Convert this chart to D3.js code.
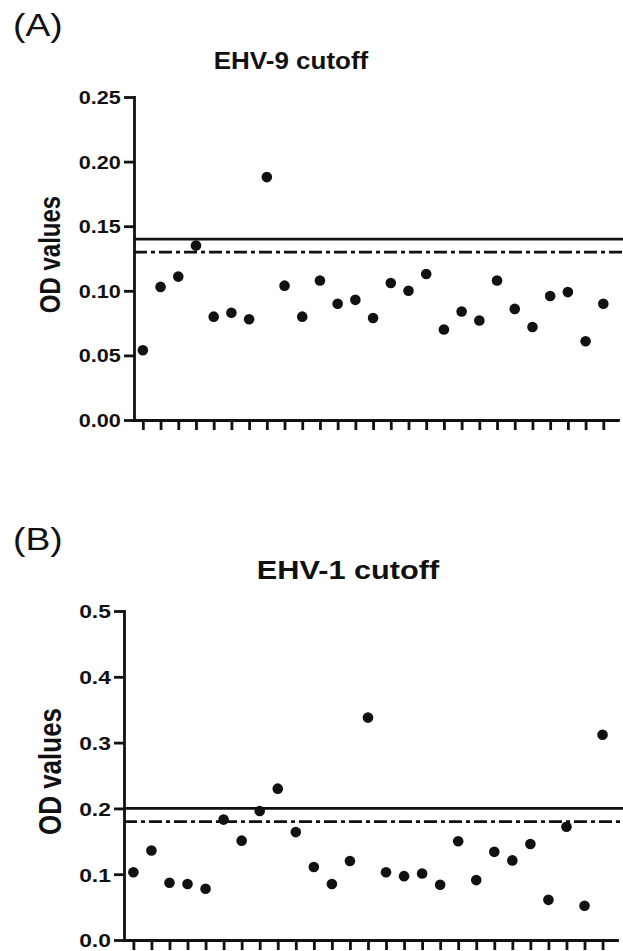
<!DOCTYPE html>
<html>
<head>
<meta charset="utf-8">
<script src="https://cdn.jsdelivr.net/npm/d3@7"></script>
<style>
    body { margin: 0; background: #fff; }
    text { font-family: "Liberation Sans", Arial, sans-serif; fill: #111; }
</style>
</head>
<body>
<svg id="chart"></svg>
<script>
// OD values, one per sample (27 samples per panel)
const ehv9Values = [0.054, 0.103, 0.111, 0.135, 0.080, 0.083, 0.078, 0.188, 0.104, 0.080,
    0.108, 0.090, 0.093, 0.079, 0.106, 0.100, 0.113, 0.070, 0.084, 0.077,
    0.108, 0.086, 0.072, 0.096, 0.099, 0.061, 0.090];
const ehv1Values = [0.103, 0.136, 0.087, 0.085, 0.078, 0.183, 0.151, 0.196, 0.230, 0.164,
    0.111, 0.085, 0.120, 0.338, 0.103, 0.097, 0.101, 0.084, 0.150, 0.091,
    0.134, 0.121, 0.146, 0.061, 0.172, 0.052, 0.312];

const ehv9Ticks = [0, 0.05, 0.10, 0.15, 0.20, 0.25];
const ehv1Ticks = [0, 0.1, 0.2, 0.3, 0.4, 0.5];

// [solid line, dash-dot line]
const ehv9Cutoffs = [0.14, 0.13];
const ehv1Cutoffs = [0.20, 0.18];

const width = 623;
const height = 951;
const stretch = 1.2; // the original figure's lettering is a bit wide

const svg = d3.select("#chart")
    .attr("width", width)
    .attr("height", height);

const wideText = (g, x, y, size, bold, txt, anchor, sx) => {
    g.append("text")
        .attr("transform", `translate(${x},${y}) scale(${sx || stretch},1)`)
        .attr("text-anchor", anchor || "start")
        .style("font-size", size + "px")
        .style("font-weight", bold ? "bold" : "normal")
        .text(txt);
};

const drawPanel = (opts) => {
    const {values, ticks, cutoffs, fmt, letter, title} = opts;
    const g = svg.append("g");

    const yScale = d3.scaleLinear()
        .domain([0, ticks[ticks.length - 1]])
        .range([opts.bottom, opts.top]);

    // sample index -> x, axis runs a bit past both ends
    const xScale = d3.scaleLinear()
        .domain([opts.xStart, opts.xEnd])
        .range([opts.left, opts.right]);

    wideText(g, 13, opts.letterY, opts.letterSize, false, letter);
    wideText(g, opts.titleX, opts.titleY, opts.titleSize, true, title, "middle", opts.titleStretch);

    g.append("text")
        .attr("transform", `translate(${opts.ylabelX},${(opts.top + opts.bottom) / 2 - 4}) rotate(-90) scale(1,${stretch})`)
        .attr("text-anchor", "middle")
        .style("font-size", opts.ylabelSize + "px")
        .style("font-weight", "bold")
        .text("OD values");

    const yAxis = g.append("g")
        .attr("transform", `translate(${opts.left},0)`)
        .call(d3.axisLeft(yScale).tickValues(ticks).tickFormat(d3.format(fmt))
            .tickSize(10).tickSizeOuter(0).tickPadding(1));

    const xAxis = g.append("g")
        .attr("transform", `translate(0,${opts.bottom})`)
        .call(d3.axisBottom(xScale).tickValues(d3.range(values.length)).tickFormat("")
            .tickSize(10).tickSizeOuter(0));

    [yAxis, xAxis].forEach(ax => {
        ax.selectAll("path, line").attr("stroke", "#111").attr("stroke-width", 2.8);
        ax.select(".domain").attr("stroke-linecap", "square");
    });
    yAxis.selectAll("text")
        .attr("transform", `scale(${stretch},1)`)
        .style("font-size", opts.tickSize + "px")
        .style("font-weight", "bold")
        .attr("dy", "0.36em");

    // cutoff lines go from the y axis to the edge of the picture
    g.selectAll(".cutoff")
        .data(cutoffs)
        .enter().append("line")
        .attr("class", "cutoff")
        .attr("x1", opts.left)
        .attr("x2", width)
        .attr("y1", d => yScale(d))
        .attr("y2", d => yScale(d))
        .attr("stroke", "#111")
        .attr("stroke-width", 2.8)
        .attr("stroke-dasharray", (d, i) => i === 0 ? null : "13,4,4,4");

    g.selectAll(".dot")
        .data(values)
        .enter().append("circle")
        .attr("class", "dot")
        .attr("cx", (d, i) => xScale(i))
        .attr("cy", d => yScale(d))
        .attr("r", 5.3)
        .attr("fill", "#111");
};

drawPanel({
    values: ehv9Values, ticks: ehv9Ticks, cutoffs: ehv9Cutoffs, fmt: ".2f",
    letter: "(A)", title: "EHV-9 cutoff",
    top: 97, bottom: 420, left: 134, right: 618, xStart: -0.5, xEnd: 26.83,
    letterY: 36, letterSize: 31, titleX: 291, titleY: 69, titleSize: 23, titleStretch: 1.13,
    ylabelX: 60, ylabelSize: 24, tickSize: 18
});

drawPanel({
    values: ehv1Values, ticks: ehv1Ticks, cutoffs: ehv1Cutoffs, fmt: ".1f",
    letter: "(B)", title: "EHV-1 cutoff",
    top: 611, bottom: 940, left: 124, right: 617, xStart: -0.52, xEnd: 26.8,
    letterY: 550, letterSize: 31, titleX: 348, titleY: 579, titleSize: 26, titleStretch: 1.18,
    ylabelX: 61, ylabelSize: 26, tickSize: 19
});
</script>
</body>
</html>
